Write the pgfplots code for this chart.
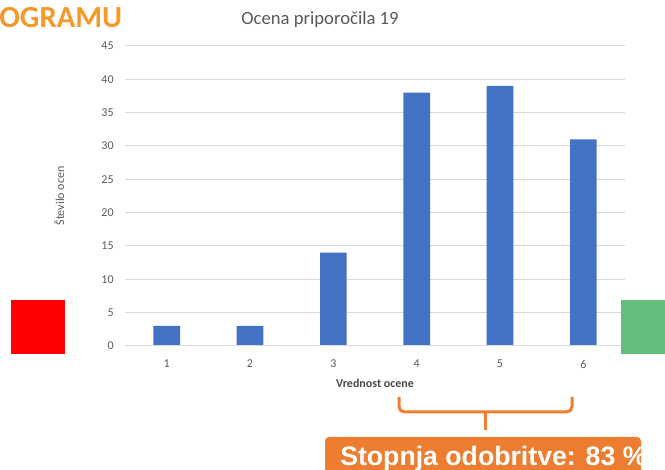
\documentclass[border=0pt]{standalone}
\usepackage{pgfplots}
\pgfplotsset{compat=1.18}
\usepackage{fontspec}
\setmainfont{Carlito}
\newfontfamily\arialfont{Liberation Sans}
\definecolor{barblue}{HTML}{4472C4}
\definecolor{gridgray}{HTML}{D9D9D9}
\definecolor{txtgray}{HTML}{595959}
\definecolor{boxorange}{HTML}{ED7D31}
\definecolor{headorange}{HTML}{F39A2B}
\definecolor{okgreen}{HTML}{63BE7B}

\begin{document}
\begin{tikzpicture}
\clip (0,0) rectangle (498.75pt,-352.5pt);

\begin{axis}[
    at={(93.75pt,-259.5pt)}, anchor=south west,
    scale only axis,
    width=375pt, height=225pt,
    ybar, bar width=20pt,
    xmin=0.5, xmax=6.5,
    ymin=0, ymax=45,
    xtick={1,...,6},
    ytick={0,5,...,45},
    ymajorgrids,
    grid style={gridgray, line width=0.75pt},
    axis line style={draw=none},
    major tick length=0pt,
    tick label style={font=\fontsize{9}{11}\selectfont, text=txtgray},
    /pgf/number format/assume math mode=true,
    yticklabel style={xshift=-5pt},
    xticklabel style={yshift=-7pt},
    xlabel={\textbf{Vrednost ocene}},
    xlabel style={font=\fontsize{9}{11}\selectfont, text=txtgray!80!black, yshift=-1pt},
    ylabel={Število ocen},
    ylabel style={font=\fontsize{9}{11}\selectfont, text=txtgray,
        at={(axis description cs:-0.112,0.5)}},
]
\addplot[fill=barblue, draw=none] coordinates {
    (1,3) (2,3) (3,14) (4,38) (5,39) (6,31)
};
\draw[gridgray, line width=0.75pt] (axis cs:0.5,0) -- (axis cs:6.5,0);
\end{axis}

\begin{scope}[x=0.75pt, y=-0.75pt]
% heading fragment and title
\node[anchor=west, font=\fontsize{23}{26}\selectfont\bfseries, text=headorange, inner sep=0] at (-1,18) {OGRAMU};
\node[font=\fontsize{14}{16}\selectfont, text=txtgray] at (320,20) {Ocena priporočila 19};
% side squares
\fill[red] (11,300) rectangle (65,354);
\fill[okgreen] (621,300) rectangle (680,354);
% brace
\draw[boxorange, line width=2.25pt, rounded corners=4pt]
    (399,397) -- (399,412) -- (572,412) -- (572,397);
\draw[boxorange, line width=2.25pt] (485,412) -- (485,430);
% approval box
\fill[boxorange, rounded corners=3pt] (325,437) rectangle (641,490);
\node[anchor=base west, font=\arialfont\bfseries\fontsize{20}{24}\selectfont, text=white, inner sep=0] at (340,466) {Stopnja odobritve: 83 \%};
\end{scope}
\end{tikzpicture}
\end{document}
